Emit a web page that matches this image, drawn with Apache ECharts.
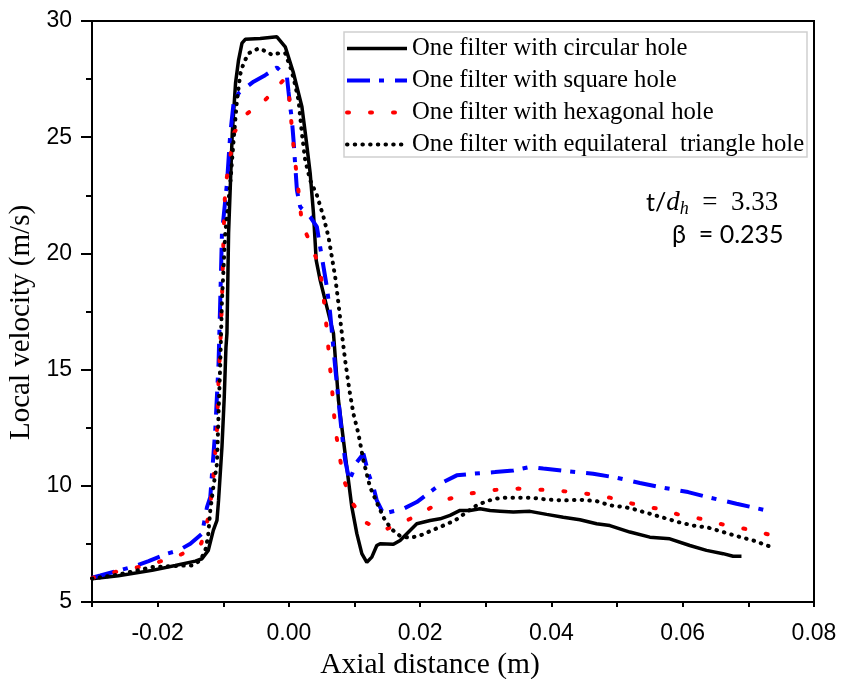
<!DOCTYPE html>
<html>
<head>
<meta charset="utf-8">
<script src="https://cdn.jsdelivr.net/npm/echarts@6/dist/echarts.min.js"></script>
<style>html,body{margin:0;padding:0;background:#fff;}#c{width:842px;height:679px;}</style>
</head>
<body>
<div id="c"></div>
<script>
// ---- data ----
var seriesNames = ['One filter with circular hole','One filter with square hole','One filter with hexagonal hole','One filter with equilateral  triangle hole'];
var xTickLabels = ['-0.02','0.00','0.02','0.04','0.06','0.08'];
var yTickLabels = ['5','10','15','20','25','30'];

var circX = [-0.0300,-0.02598,-0.02085,-0.01731,-0.01426,-0.01324,-0.01228,-0.01152,-0.01096,-0.01072,-0.0102,-0.00985,-0.00959,-0.00944,-0.00919,-0.00863,-0.00813,-0.00767,-0.00715,-0.00665,-0.00437,-0.00183,-0.00056,0.0007,0.00198,0.00263,0.00324,0.00374,0.00416,0.00476,0.00553,0.00629,0.00679,0.00755,0.00831,0.00907,0.00959,0.01035,0.01111,0.01187,0.01263,0.01339,0.0139,0.01592,0.01694,0.01796,0.01948,0.02151,0.02303,0.02455,0.02607,0.02759,0.02912,0.03064,0.03216,0.03419,0.03673,0.03927,0.0418,0.04434,0.04688,0.0489,0.05195,0.05499,0.05803,0.06108,0.06362,0.06615,0.06767,0.06895];
var circY = [6.00,6.13,6.36,6.57,6.76,6.86,7.22,8.08,8.51,9.37,11.67,13.82,15.97,16.56,20.87,25.18,27.33,28.32,29.05,29.21,29.25,29.32,28.89,27.76,26.31,24.88,23.45,21.73,19.70,18.85,17.98,17.12,16.56,13.68,11.96,10.23,9.08,7.94,7.08,6.71,6.93,7.43,7.51,7.48,7.65,7.94,8.37,8.51,8.58,8.73,8.94,8.94,9.01,8.94,8.91,8.87,8.90,8.77,8.65,8.54,8.37,8.29,8.01,7.79,7.72,7.43,7.22,7.08,6.97,6.97];

var sqX = [-0.0300,-0.02872,-0.02365,-0.02137,-0.01857,-0.0168,-0.01502,-0.01324,-0.01248,-0.01198,-0.01122,-0.01072,-0.01046,-0.0102,-0.00944,-0.00893,-0.00843,-0.00767,-0.00539,-0.00361,-0.00183,-0.0003,-0.00006,0.0002,0.00046,0.0007,0.00122,0.00172,0.00324,0.00426,0.00476,0.00527,0.00578,0.00629,0.00705,0.00755,0.00807,0.00857,0.00922,0.01035,0.01135,0.01212,0.01288,0.01339,0.0144,0.01744,0.01948,0.02151,0.02353,0.02557,0.0281,0.0314,0.03419,0.03673,0.03875,0.04231,0.04636,0.04992,0.05347,0.05702,0.06082,0.06413,0.06819,0.07326];
var sqY = [6.05,6.14,6.53,6.76,7.08,7.22,7.51,7.94,9.08,9.51,12.39,15.26,17.98,20.86,23.01,25.16,26.46,26.89,27.39,27.67,28.00,27.60,26.96,26.31,25.74,24.88,22.72,22.00,21.57,21.14,20.28,19.42,18.56,17.41,15.11,13.68,12.24,11.09,10.23,11.02,11.38,10.52,9.94,9.37,8.80,9.01,9.30,9.73,10.16,10.45,10.52,10.59,10.66,10.81,10.74,10.63,10.52,10.35,10.12,9.92,9.73,9.49,9.23,8.91];

var hexX = [-0.0300,-0.02872,-0.0267,-0.0234,-0.01997,-0.01639,-0.01335,-0.01224,-0.01163,-0.01096,-0.01072,-0.01046,-0.0102,-0.00995,-0.0097,-0.00893,-0.00843,-0.0065,-0.00387,-0.00186,-0.00082,-0.00011,0.00046,0.00081,0.00122,0.00161,0.00198,0.0035,0.00466,0.00518,0.00553,0.00588,0.00618,0.00654,0.00679,0.00715,0.0077,0.00831,0.00959,0.01161,0.01416,0.0177,0.02049,0.02353,0.02683,0.03014,0.03495,0.03851,0.0418,0.04536,0.0489,0.05236,0.0559,0.0593,0.06271,0.06606,0.06945,0.073];
var hexY = [6.03,6.14,6.28,6.47,6.71,7.05,7.52,8.68,9.94,12.39,14.54,15.97,17.98,20.86,22.86,24.16,25.16,25.99,26.52,27.14,27.46,27.20,25.38,24.30,23.29,22.29,21.29,20.28,19.42,18.42,17.41,16.40,15.33,14.32,13.32,12.31,11.31,10.31,9.30,8.44,8.06,8.47,8.87,9.37,9.62,9.80,9.88,9.83,9.77,9.66,9.49,9.23,9.03,8.77,8.58,8.34,8.15,7.91];

var triX = [-0.0300,-0.02594,-0.02085,-0.01578,-0.01476,-0.0135,-0.01274,-0.01233,-0.01198,-0.01152,-0.01096,-0.01072,-0.01046,-0.0102,-0.0097,-0.00893,-0.00843,-0.00791,-0.00741,-0.00691,-0.00615,-0.00463,-0.00335,-0.00259,-0.00158,-0.00056,0.0002,0.0007,0.00146,0.00198,0.00248,0.00324,0.00426,0.00527,0.00603,0.00654,0.00705,0.00755,0.00807,0.00857,0.00922,0.00983,0.01059,0.01135,0.01237,0.01359,0.0145,0.01557,0.01694,0.01846,0.01998,0.02177,0.02353,0.02531,0.02709,0.02861,0.03014,0.0314,0.03318,0.03673,0.03927,0.0418,0.04434,0.04688,0.0489,0.05119,0.05236,0.05473,0.05702,0.0593,0.06158,0.06387,0.06615,0.06843,0.07072,0.07326];
var triY = [6.01,6.18,6.50,6.57,6.57,6.79,7.22,7.79,8.94,9.94,10.95,13.10,15.26,17.98,20.87,23.02,24.87,26.60,27.72,28.18,28.61,28.82,28.68,28.54,28.61,28.61,28.03,27.55,26.60,25.16,24.01,23.15,22.51,21.57,20.71,19.85,18.99,17.84,16.55,15.40,14.11,13.10,12.24,11.09,9.94,9.16,8.60,8.15,7.84,7.76,7.86,8.08,8.29,8.51,8.87,9.16,9.34,9.44,9.49,9.49,9.41,9.37,9.40,9.34,9.16,9.08,9.01,8.82,8.63,8.44,8.29,8.20,8.01,7.82,7.65,7.39];

function zip(xs, ys) {
  var n = Math.min(xs.length, ys.length), out = [];
  for (var i = 0; i < n; i++) out.push([xs[i], ys[i]]);
  return out;
}

var chart = echarts.init(document.getElementById('c'), null, {renderer: 'canvas'});
var serif = '"Liberation Serif", "Times New Roman", serif';
var sans = '"Liberation Sans", Arial, sans-serif';

var styles = [
  {color: '#000000', width: 3.5, type: 'solid', cap: 'butt'},
  {color: '#0000ff', width: 4, type: [23, 9, 5, 11], cap: 'butt'},
  {color: '#ff0000', width: 4, type: [2, 21], cap: 'round'},
  {color: '#000000', width: 4, type: [0.5, 7.2], cap: 'round'}
];

var option = {
  animation: false,
  backgroundColor: '#fff',
  grid: {left: 92, right: 28, top: 21, bottom: 77, show: true, borderColor: '#000', borderWidth: 2,
         containLabel: false, outerBoundsMode: 'none'},
  xAxis: {
    type: 'value', min: -0.03, max: 0.08, interval: 0.01,
    name: 'Axial distance (m)', nameLocation: 'middle', nameGap: 44,
    nameTextStyle: {fontFamily: serif, fontSize: 29.5, color: '#000', padding: [0, 46, 0, 0]},
    axisLine: {show: true, onZero: false, lineStyle: {color: '#000', width: 2}},
    axisTick: {show: true, inside: false, length: 5, lineStyle: {color: '#000', width: 2}},
    axisLabel: {
      fontFamily: sans, fontSize: 23, color: '#000', margin: 20,
      formatter: function (v) {
        var k = Math.round(v * 100);
        if (k % 2 !== 0) return '';
        var idx = (k + 2) / 2;
        return xTickLabels[idx] !== undefined ? xTickLabels[idx] : '';
      }
    },
    splitLine: {show: false}
  },
  yAxis: {
    type: 'value', min: 5, max: 30, interval: 5,
    name: 'Local velocity (m/s)', nameLocation: 'middle', nameGap: 50,
    nameTextStyle: {fontFamily: serif, fontSize: 29, color: '#000', padding: [0, 22, 0, 0]},
    axisLine: {show: true, onZero: false, lineStyle: {color: '#000', width: 2}},
    axisTick: {show: true, inside: false, length: 11, lineStyle: {color: '#000', width: 2}},
    minorTick: {show: true, splitNumber: 2, length: 6, lineStyle: {color: '#000', width: 2}},
    axisLabel: {
      fontFamily: sans, fontSize: 23, color: '#000', margin: 20,
      formatter: function (v) {
        var idx = Math.round((v - 5) / 5);
        return yTickLabels[idx] !== undefined ? yTickLabels[idx] : '';
      }
    },
    splitLine: {show: false}
  },
  legend: {
    orient: 'vertical', left: 345, top: 36, padding: 0,
    itemWidth: 60, itemHeight: 14, itemGap: 7,
    textStyle: {fontFamily: serif, fontSize: 24.7, color: '#000', lineHeight: 24},
    itemStyle: {opacity: 0, borderWidth: 0},
    data: seriesNames.map(function (n, i) {
      return {name: n, lineStyle: {color: styles[i].color, width: styles[i].width, type: styles[i].type, cap: styles[i].cap, opacity: 1}};
    })
  },
  graphic: [
    {type: 'rect', silent: true, z: 100, shape: {x: 344, y: 32, width: 463, height: 125},
     style: {fill: 'none', stroke: '#cfcfcf', lineWidth: 1.5}},
    {type: 'text', z: 100, style: {
      x: 646, y: 203, textVerticalAlign: 'middle', textAlign: 'left',
      text: '{a|t/}{d|d}{h|h}{c|\u2002=\u20023.33}',
      rich: {
        a: {fontFamily: 'Lato, "Open Sans", sans-serif', fontSize: 25, fill: '#000'},
        d: {fontFamily: serif, fontStyle: 'italic', fontSize: 27, fill: '#000'},
        h: {fontFamily: serif, fontStyle: 'italic', fontSize: 18, fill: '#000', padding: [12, 0, 0, 0]},
        c: {fontFamily: serif, fontSize: 27, fill: '#000'}
      }
    }},
    {type: 'text', z: 100, style: {
      x: 672, y: 235, textVerticalAlign: 'middle', textAlign: 'left',
      text: 'β  = 0.235',
      font: '25px Lato, "Open Sans", sans-serif', fill: '#000'
    }}
  ],
  series: seriesNames.map(function (n, i) {
    var xs = [circX, sqX, hexX, triX][i], ys = [circY, sqY, hexY, triY][i];
    return {
      name: n, type: 'line', symbol: 'none', showSymbol: false, data: zip(xs, ys), z: 3 + i,
      lineStyle: styles[i], itemStyle: {color: styles[i].color}
    };
  })
};
chart.setOption(option);
</script>
</body>
</html>
